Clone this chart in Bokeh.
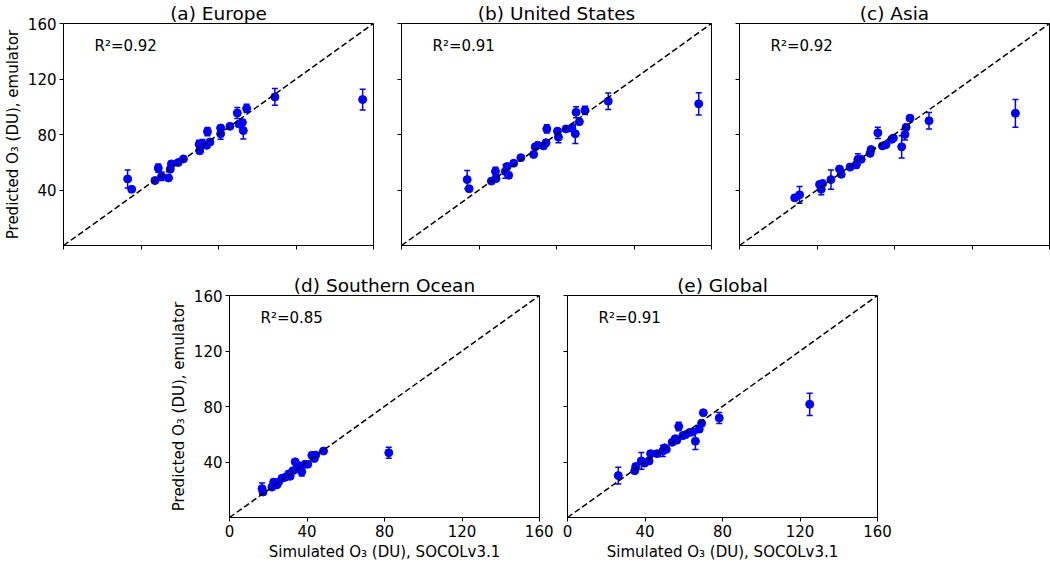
from bokeh.plotting import figure
from bokeh.models import (Range1d, Whisker, TeeHead, ColumnDataSource, Slope,
                          Label, FixedTicker, Spacer)
from bokeh.layouts import column, row
from bokeh.embed import file_html
from bokeh.resources import INLINE

# ---------------- data ----------------
x_ticks = [0, 40, 80, 120, 160]
y_ticks = [40, 80, 120, 160]
axis_limits = [0, 160]

eu_sim = [33.1, 35.2, 47.2, 48.9, 50.6, 54.2, 55.1, 55.7, 59.2, 61.9, 70.3, 70.0, 71.7,
          73.9, 75.6, 74.3, 81.1, 81.1, 85.9, 89.7, 90.6, 92.3, 92.8, 94.5, 109.1, 154.4]
eu_pred = [48.0, 40.5, 46.8, 55.8, 49.9, 48.7, 55.0, 58.8, 59.8, 62.4, 68.2, 72.9, 73.4,
           72.2, 74.6, 82.1, 84.7, 80.5, 85.9, 95.5, 87.5, 88.7, 82.8, 98.8, 107.1, 105.2]
eu_err = [6.5, 1.5, 1.5, 3.0, 3.0, 1.5, 1.5, 2.0, 1.5, 1.5, 1.5, 3.0, 3.0,
          1.5, 1.5, 3.0, 2.0, 4.0, 1.5, 4.0, 1.5, 2.0, 6.0, 3.0, 6.0, 7.5]

us_sim = [33.9, 34.9, 46.4, 48.5, 48.8, 53.6, 54.5, 55.3, 57.9, 61.6, 68.2, 69.0, 70.2,
          73.3, 74.6, 75.0, 80.5, 81.0, 84.9, 87.9, 90.1, 89.7, 91.8, 94.7, 106.7, 153.4]
us_pred = [47.5, 40.9, 46.4, 53.4, 48.2, 53.4, 56.9, 50.6, 59.3, 63.3, 65.6, 71.1, 72.2,
           71.8, 74.1, 84.0, 82.4, 78.1, 84.0, 84.5, 96.0, 80.5, 89.2, 97.4, 104.0, 102.1]
us_err = [6.5, 1.5, 1.5, 3.0, 1.5, 5.0, 2.0, 2.0, 1.5, 1.5, 1.5, 2.0, 2.0,
          1.5, 2.0, 3.0, 2.0, 4.0, 1.5, 2.0, 4.0, 7.0, 1.5, 3.0, 6.0, 8.0]

asia_sim = [28.5, 31.0, 41.3, 42.2, 42.9, 47.2, 51.6, 52.5, 57.1, 60.2, 61.1, 62.8, 67.4,
            67.9, 71.4, 73.8, 75.6, 78.6, 79.4, 83.7, 85.4, 86.0, 88.0, 97.8, 142.4]
asia_pred = [34.4, 36.5, 44.0, 40.5, 44.7, 47.5, 55.1, 51.3, 56.5, 58.1, 62.1, 62.1, 66.4,
             69.2, 81.2, 71.8, 72.7, 76.5, 77.4, 71.1, 80.0, 85.2, 91.8, 89.9, 95.3]
asia_err = [1.5, 6.0, 1.5, 4.0, 1.5, 7.0, 1.5, 1.5, 1.5, 2.5, 4.0, 1.5, 1.5,
            1.5, 4.0, 1.5, 1.5, 1.5, 1.5, 8.0, 4.0, 1.5, 1.5, 6.0, 10.0]

so_sim = [16.8, 17.3, 21.9, 22.8, 24.5, 25.3, 27.1, 28.8, 30.5, 31.3, 32.7, 33.9, 34.8,
          36.0, 37.3, 39.0, 40.4, 42.5, 43.8, 44.5, 48.5, 82.2]
so_pred = [20.8, 18.4, 21.9, 25.5, 23.6, 25.5, 28.3, 29.0, 31.4, 29.7, 33.7, 40.1, 34.9,
           37.3, 33.0, 38.4, 38.4, 44.8, 42.5, 45.0, 47.9, 46.7]
so_err = [4.0, 1.5, 1.5, 1.5, 1.5, 1.5, 1.5, 1.5, 1.5, 1.5, 1.5, 1.5, 1.5,
          1.5, 3.0, 1.5, 1.5, 1.5, 1.5, 1.5, 1.5, 4.0]

gl_sim = [26.2, 34.7, 35.2, 38.1, 39.8, 42.1, 42.9, 46.2, 49.2, 50.1, 51.0, 54.0, 55.6,
          56.4, 57.4, 59.5, 60.9, 63.0, 64.6, 66.0, 68.0, 69.2, 70.1, 78.3, 125.0]
gl_pred = [30.2, 33.7, 36.8, 40.8, 39.2, 40.8, 46.0, 46.0, 47.9, 50.2, 49.1, 54.2, 56.8,
           55.7, 65.6, 59.0, 59.7, 61.3, 61.6, 55.0, 63.7, 67.9, 75.5, 71.7, 81.6]
gl_err = [6.0, 1.5, 1.5, 6.0, 1.5, 2.0, 1.5, 1.5, 4.0, 1.5, 1.5, 1.5, 1.5,
          1.5, 3.0, 1.5, 1.5, 1.5, 1.5, 6.0, 2.0, 2.0, 1.5, 4.0, 8.0]

titles = ["(a) Europe", "(b) United States", "(c) Asia", "(d) Southern Ocean", "(e) Global"]
r2_values = ["0.92", "0.91", "0.92", "0.85", "0.91"]
x_label = "Simulated O\u2083 (DU), SOCOLv3.1"
y_label = "Predicted O\u2083 (DU), emulator"

FONT = "DejaVu Sans"
BLUE = "#0000ff"


def make_panel(title, sim, pred, err, r2, xlab, ylab, bl, br, bb):
    p = figure(frame_width=310, frame_height=222,
               x_range=Range1d(*axis_limits), y_range=Range1d(*axis_limits),
               output_backend="svg", toolbar_location=None,
               min_border_left=bl, min_border_right=br,
               min_border_top=19, min_border_bottom=bb,
               title=title)
    p.title.align = "center"
    p.title.text_font = FONT
    p.title.text_font_size = "18.5px"
    p.title.text_font_style = "normal"
    p.title.text_color = "black"
    p.title.standoff = 0
    p.title.offset = 0
    p.grid.visible = False
    p.outline_line_color = "black"
    p.outline_line_width = 1
    p.background_fill_color = "white"
    p.border_fill_color = "white"

    for ax in (p.xaxis[0], p.yaxis[0]):
        ax.axis_line_color = None
        ax.major_tick_in = 0
        ax.major_tick_out = 4
        ax.major_tick_line_color = "black"
        ax.minor_tick_line_color = None
        ax.major_label_text_font = FONT
        ax.major_label_text_font_size = "15px"
        ax.major_label_text_color = "black"
        ax.major_label_standoff = 3
        ax.axis_label_text_font = FONT
        ax.axis_label_text_font_size = "15px"
        ax.axis_label_text_font_style = "normal"
        ax.axis_label_text_color = "black"
        ax.axis_label_standoff = 3
    p.xaxis.ticker = FixedTicker(ticks=x_ticks)
    p.yaxis.ticker = FixedTicker(ticks=y_ticks)
    if xlab:
        p.xaxis.axis_label = x_label
    else:
        p.xaxis.major_label_overrides = {t: "" for t in x_ticks}
    if ylab:
        p.yaxis.axis_label = y_label
    else:
        p.yaxis.major_label_overrides = {t: "" for t in y_ticks}

    p.add_layout(Slope(gradient=1, y_intercept=0, line_color="black",
                       line_dash="6 3", line_width=1.5))

    lower = [v - e for v, e in zip(pred, err)]
    upper = [v + e for v, e in zip(pred, err)]
    src = ColumnDataSource(dict(x=sim, y=pred, lower=lower, upper=upper))
    p.add_layout(Whisker(source=src, base="x", lower="lower", upper="upper",
                         line_color=BLUE, line_width=1.5,
                         upper_head=TeeHead(size=6, line_color=BLUE, line_width=1.5),
                         lower_head=TeeHead(size=6, line_color=BLUE, line_width=1.5)))
    p.scatter("x", "y", source=src, size=8, fill_color=BLUE, line_color=BLUE)

    p.add_layout(Label(x=16, y=144, text="R\u00b2=" + r2, text_baseline="middle",
                       text_align="left", text_font=FONT, text_font_size="15px",
                       text_color="black"))
    return p


pa = make_panel(titles[0], eu_sim, eu_pred, eu_err, r2_values[0], False, True, 51, 14, 27)
pb = make_panel(titles[1], us_sim, us_pred, us_err, r2_values[1], False, False, 14, 14, 27)
pc = make_panel(titles[2], asia_sim, asia_pred, asia_err, r2_values[2], False, False, 14, 2, 27)
pd_ = make_panel(titles[3], so_sim, so_pred, so_err, r2_values[3], True, True, 51, 14, 44)
pe = make_panel(titles[4], gl_sim, gl_pred, gl_err, r2_values[4], True, False, 14, 16, 44)

layout = column(row(pa, pb, pc), row(Spacer(width=166, height=10), pd_, pe))

with open("out.html", "w") as f:
    f.write(file_html(layout, INLINE))
